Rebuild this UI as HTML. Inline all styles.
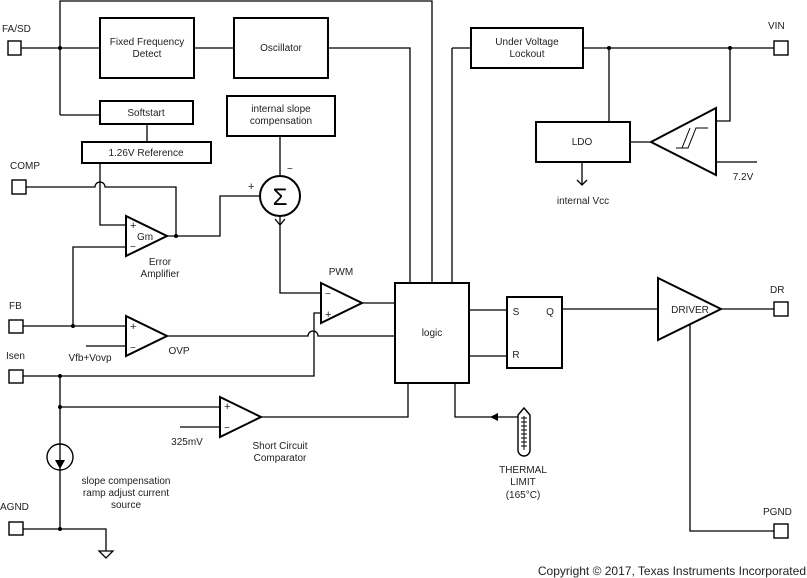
<!DOCTYPE html>
<html><head><meta charset="utf-8"><style>
html,body{margin:0;padding:0;background:#fff}
svg{display:block}
text{font-family:"Liberation Sans",Arial,sans-serif;font-size:10px;fill:#222}
</style></head><body>
<svg width="807" height="578" viewBox="0 0 807 578" xmlns="http://www.w3.org/2000/svg">
<g fill="none" stroke="#000" stroke-width="1.3">
<polyline points="60,115 60,1 432,1 432,283"/>
<line x1="20" y1="48" x2="100" y2="48"/>
<line x1="60" y1="115" x2="100" y2="115"/>
<line x1="194" y1="48" x2="234" y2="48"/>
<polyline points="328,48 410,48 410,283"/>
<line x1="147" y1="124" x2="147" y2="142"/>
<polyline points="100,163 100,225 126,225"/>
<path d="M26,187 H95 A5,5 0 0 1 105,187 H176 V236"/>
<polyline points="167,236 220,236 220,196 260,196"/>
<line x1="280" y1="136" x2="280" y2="176"/>
<polyline points="280,216 280,293 321,293"/>
<polyline points="275,219 280,225 285,219"/>
<polyline points="126,247 73,247 73,326"/>
<line x1="23" y1="326" x2="126" y2="326"/>
<line x1="86" y1="346" x2="126" y2="346"/>
<path d="M167,336 H308 A5,5 0 0 1 318,336 H395"/>
<polyline points="321,313 314,313 314,376 23,376"/>
<line x1="362" y1="303" x2="395" y2="303"/>
<line x1="452" y1="283" x2="452" y2="48"/>
<line x1="452" y1="48" x2="471" y2="48"/>
<line x1="60" y1="376" x2="60" y2="529"/>
<line x1="60" y1="407" x2="220" y2="407"/>
<line x1="180" y1="427" x2="220" y2="427"/>
<polyline points="261,417 408,417 408,383"/>
<polyline points="23,529 106,529 106,551"/>
<polyline points="455,383 455,417 518,417"/>
<line x1="469" y1="310" x2="507" y2="310"/>
<line x1="469" y1="356" x2="507" y2="356"/>
<line x1="562" y1="309" x2="658" y2="309"/>
<line x1="721" y1="309" x2="774" y2="309"/>
<polyline points="690,325 690,531 774,531"/>
<line x1="583" y1="48" x2="774" y2="48"/>
<line x1="609" y1="48" x2="609" y2="122"/>
<polyline points="730,48 730,121 716,121"/>
<line x1="630" y1="142" x2="651" y2="142"/>
<line x1="716" y1="162" x2="757" y2="162"/>
<line x1="582" y1="162" x2="582" y2="185"/>
<polyline points="577,180 582,185 587,180"/>
</g>
<polygon points="99,551 113,551 106,558" fill="none" stroke="#000" stroke-width="1.3"/>
<g fill="#fff" stroke="#000" stroke-width="2">
<rect x="100" y="18" width="94" height="60"/>
<rect x="234" y="18" width="94" height="60"/>
<rect x="100" y="101" width="93" height="23"/>
<rect x="82" y="142" width="129" height="21"/>
<rect x="227" y="96" width="108" height="40"/>
<rect x="395" y="283" width="74" height="100"/>
<rect x="507" y="297" width="55" height="71"/>
<rect x="471" y="28" width="112" height="40"/>
<rect x="536" y="122" width="94" height="40"/>
<polygon points="126,216 167,236 126,256"/>
<polygon points="126,316 167,336 126,356"/>
<polygon points="321,283 362,303 321,323"/>
<polygon points="220,397 261,417 220,437"/>
<polygon points="658,278 721,309 658,340"/>
<polygon points="651,142 716,108 716,175"/>
<circle cx="280" cy="196" r="20"/>
</g>
<g fill="#fff" stroke="#000" stroke-width="1.4">
<circle cx="60" cy="457" r="13"/>
<rect x="8" y="41" width="13" height="14"/>
<rect x="12" y="180" width="14" height="14"/>
<rect x="9" y="320" width="14" height="13"/>
<rect x="9" y="370" width="14" height="13"/>
<rect x="9" y="522" width="14" height="13"/>
<rect x="774" y="41" width="14" height="14"/>
<rect x="774" y="302" width="14" height="14"/>
<rect x="774" y="524" width="14" height="14"/>
<path d="M518,415 L518,450 A6,6 0 0 0 530,450 L530,415 L524,408 Z"/>
</g>
<line x1="60" y1="444" x2="60" y2="470" stroke="#000" stroke-width="1.3"/>
<polygon points="55,460 65,460 60,469" fill="#000"/>
<polygon points="490,417 498,413 498,421" fill="#000"/>
<g stroke="#000" stroke-width="1">
<line x1="524" y1="416" x2="524" y2="450"/>
<line x1="521" y1="418" x2="527" y2="418"/><line x1="521" y1="422" x2="527" y2="422"/>
<line x1="521" y1="426" x2="527" y2="426"/><line x1="521" y1="430" x2="527" y2="430"/>
<line x1="521" y1="434" x2="527" y2="434"/><line x1="521" y1="438" x2="527" y2="438"/>
<line x1="521" y1="442" x2="527" y2="442"/><line x1="521" y1="446" x2="527" y2="446"/>
<polyline points="676,148 688,148 696,128 708,128" fill="none"/>
<line x1="682" y1="148" x2="690" y2="128"/>
</g>
<g fill="#000">
<circle cx="60" cy="48" r="2"/><circle cx="176" cy="236" r="2"/>
<circle cx="73" cy="326" r="2"/><circle cx="60" cy="376" r="2"/>
<circle cx="60" cy="407" r="2"/><circle cx="60" cy="529" r="2"/>
<circle cx="609" cy="48" r="2"/><circle cx="730" cy="48" r="2"/>
</g>
<text x="2" y="32">FA/SD</text>
<text x="10" y="169">COMP</text>
<text x="9" y="309">FB</text>
<text x="6" y="359">Isen</text>
<text x="0" y="510">AGND</text>
<text x="768" y="29">VIN</text>
<text x="770" y="293">DR</text>
<text x="763" y="515">PGND</text>
<g text-anchor="middle">
<text x="147" y="45">Fixed Frequency</text><text x="147" y="57">Detect</text>
<text x="281" y="51">Oscillator</text>
<text x="146" y="116">Softstart</text>
<text x="146" y="156">1.26V Reference</text>
<text x="281" y="112">internal slope</text><text x="281" y="124">compensation</text>
<text x="432" y="336">logic</text>
<text x="527" y="45">Under Voltage</text><text x="527" y="57">Lockout</text>
<text x="582" y="145">LDO</text>
<text x="583" y="204">internal Vcc</text>
<text x="743" y="180">7.2V</text>
<text x="690" y="313">DRIVER</text>
<text x="160" y="265">Error</text><text x="160" y="277">Amplifier</text>
<text x="341" y="275">PWM</text>
<text x="179" y="354">OVP</text>
<text x="90" y="361">Vfb+Vovp</text>
<text x="187" y="445">325mV</text>
<text x="280" y="449">Short Circuit</text><text x="280" y="461">Comparator</text>
<text x="126" y="484">slope compensation</text><text x="126" y="496">ramp adjust current</text><text x="126" y="508">source</text>
<text x="523" y="473">THERMAL</text><text x="523" y="485">LIMIT</text><text x="523" y="498">(165°C)</text>
<text x="516" y="315">S</text><text x="516" y="358">R</text><text x="550" y="315">Q</text>
<text x="145" y="240">Gm</text>
<text x="280" y="205" style="font-size:24px;fill:#000">Σ</text>
</g>
<text x="130" y="229" style="font-size:11px">+</text><text x="130" y="250">−</text>
<text x="130" y="330" style="font-size:11px">+</text><text x="130" y="351">−</text>
<text x="325" y="297">−</text><text x="325" y="318" style="font-size:11px">+</text>
<text x="224" y="410" style="font-size:11px">+</text><text x="224" y="431">−</text>
<text x="248" y="190" style="font-size:11px">+</text><text x="287" y="172">−</text>
<text x="806" y="575" text-anchor="end" style="font-size:12px">Copyright © 2017, Texas Instruments Incorporated</text>
</svg>
</body></html>
